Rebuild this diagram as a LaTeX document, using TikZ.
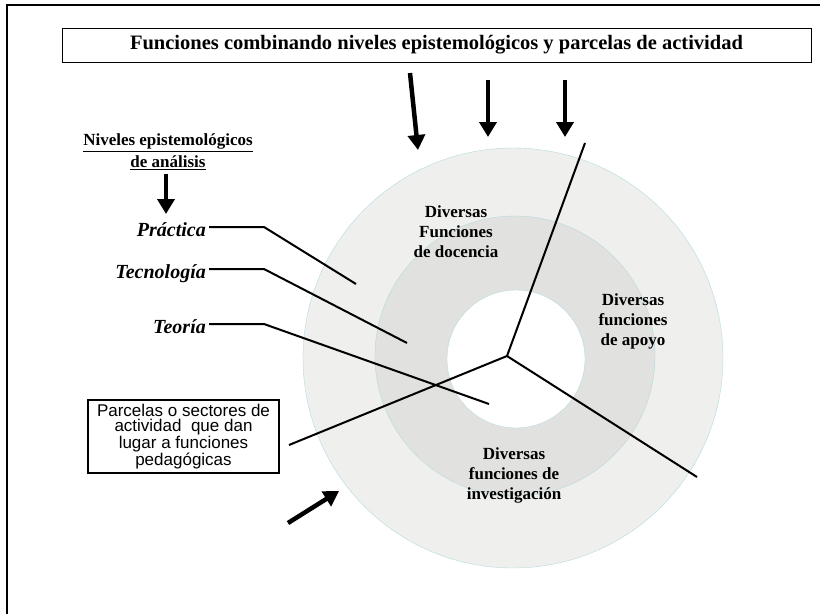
\documentclass[tikz,border=0pt]{standalone}
\usepackage{fontspec}
\setmainfont{Liberation Serif}
\setsansfont{Liberation Sans}
\usetikzlibrary{arrows.meta, calc}
\definecolor{ringouter}{RGB}{239,239,237}
\definecolor{ringmid}{RGB}{225,225,223}
\definecolor{ringedge}{RGB}{180,218,220}

\begin{document}
\begin{tikzpicture}[x=1pt, y=-1pt,
  bigarrow/.style={-{Triangle[width=17pt,length=15pt]}, line width=4.5pt},
  level/.style={anchor=east, inner sep=3pt, text height=18pt, text depth=0pt, font=\fontsize{20}{24}\selectfont\bfseries\itshape},
  sector/.style={align=center, inner sep=0pt, font=\fontsize{17}{20}\selectfont\bfseries},
  link/.style={line width=2pt}]
  \useasboundingbox (0,0) rectangle (820,614);

  % Frame
  \draw[line width=2.5pt] (7,614) -- (7,5) -- (820,5);

  % Title
  \node[draw, line width=1pt, minimum width=749pt, minimum height=34pt, font=\fontsize{20.5}{24}\selectfont\bfseries] (title) at (436.5,45) {Funciones combinando niveles epistemológicos y parcelas de actividad};

  % Rings
  \filldraw[fill=ringouter, draw=ringedge] (513,358) circle[radius=210];
  \filldraw[fill=ringmid, draw=ringedge] (515,356) circle[radius=140];
  \filldraw[fill=white, draw=ringedge] (516,359) circle[radius=69];

  % Sector labels
  \node[sector] (docencia) at (456,232) {Diversas\\Funciones\\de docencia};
  \node[sector] (apoyo) at (633,321) {Diversas\\funciones\\de apoyo};
  \node[sector] (investigacion) at (514,475) {Diversas\\funciones de\\investigación};

  % Spokes
  \coordinate (hub) at (507,356);
  \coordinate (spoke-top) at (585,143);
  \coordinate (spoke-right) at (697,477);
  \coordinate (spoke-left) at (289,445);
  \draw[link] (spoke-top) -- (hub) -- (spoke-right);
  \draw[link] (hub) -- (spoke-left);

  % Levels
  \node[align=center, font=\fontsize{17}{22}\selectfont\bfseries] (niveles) at (168,152) {\underline{Niveles epistemológicos}\\\underline{de análisis}};
  \coordinate (niveles-tip) at (166,214);
  \draw[bigarrow] (niveles.south -| niveles-tip) -- (niveles-tip);

  \node[level] (practica) at (209,227) {Práctica};
  \node[level] (tecnologia) at (209,269) {Tecnología};
  \node[level] (teoria) at (209,324) {Teoría};
  \coordinate (knee) at (264,0);
  \coordinate (practica-end) at (356,284);
  \coordinate (tecnologia-end) at (407,343);
  \coordinate (teoria-end) at (489,404);
  \draw[link] (practica.east) -- (practica.east -| knee) -- (practica-end);
  \draw[link] (tecnologia.east) -- (tecnologia.east -| knee) -- (tecnologia-end);
  \draw[link] (teoria.east) -- (teoria.east -| knee) -- (teoria-end);

  % Parcelas
  \node[draw, line width=1.2pt, minimum width=191pt, minimum height=73pt, align=center, font=\sffamily\fontsize{17}{15.5}\selectfont] (parcelas) at (183.5,436.5) {Parcelas o sectores de\\actividad~ que dan\\lugar a funciones\\pedagógicas};

  % Arrows
  \coordinate (arrow-a) at (410,73);
  \coordinate (arrow-a-tip) at (418,150);
  \coordinate (arrow-b) at (488,80);
  \coordinate (arrow-b-tip) at (488,137);
  \coordinate (arrow-c) at (565,80);
  \coordinate (arrow-c-tip) at (565,137);
  \coordinate (arrow-d) at (288,523);
  \coordinate (arrow-d-tip) at (339,491);
  \draw[bigarrow] (arrow-a) -- (arrow-a-tip);
  \draw[bigarrow] (arrow-b) -- (arrow-b-tip);
  \draw[bigarrow] (arrow-c) -- (arrow-c-tip);
  \draw[bigarrow] (arrow-d) -- (arrow-d-tip);
\end{tikzpicture}
\end{document}
